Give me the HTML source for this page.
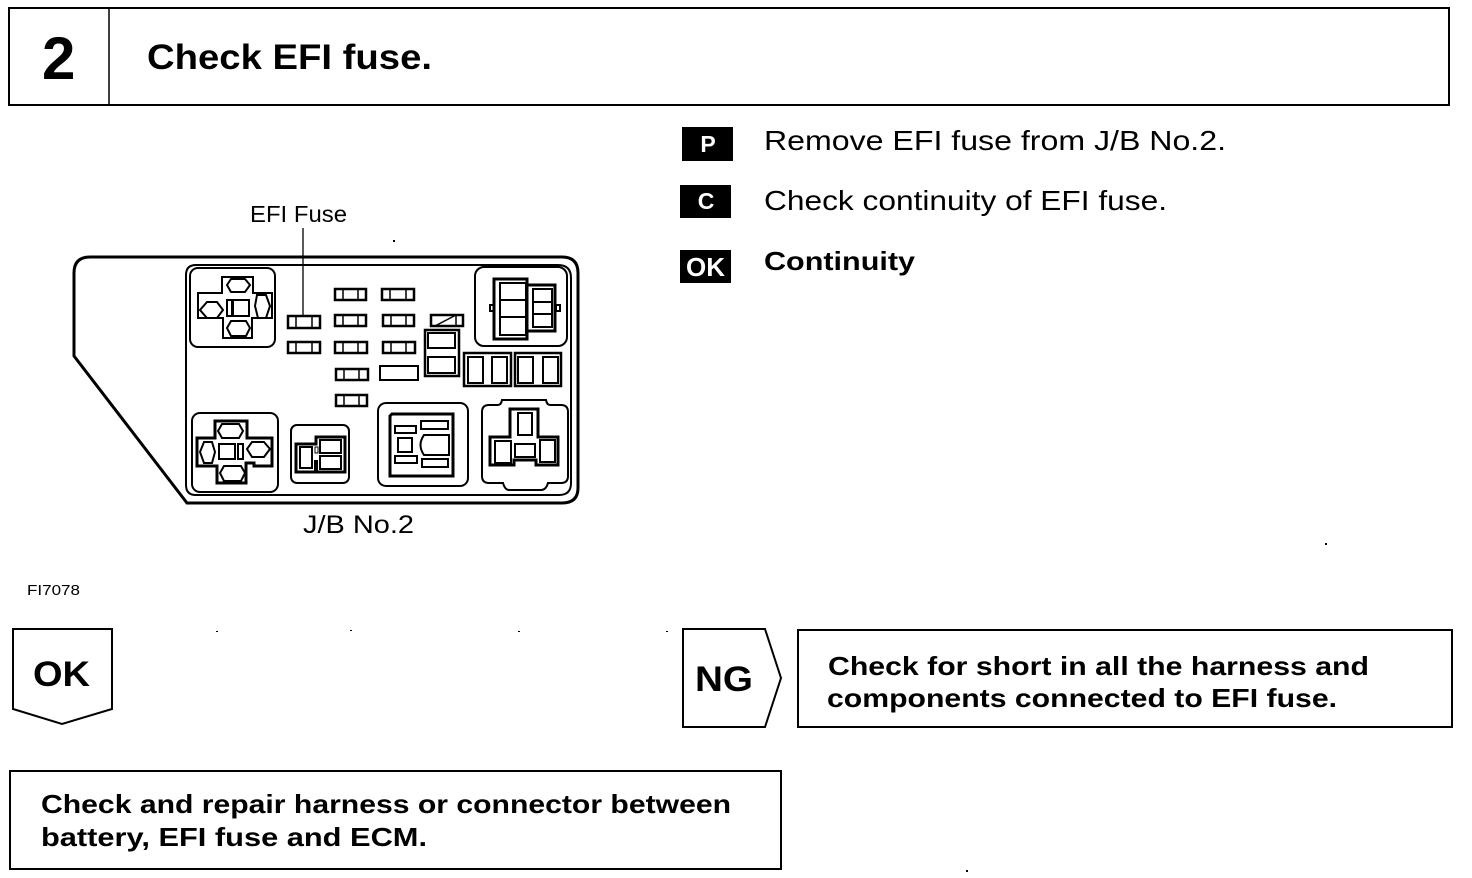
<!DOCTYPE html>
<html>
<head>
<meta charset="utf-8">
<style>
html,body{margin:0;padding:0;background:#fff}
svg{display:block}
text{font-family:"Liberation Sans",sans-serif;fill:#000}
.b{font-weight:bold}
.s{fill:none;stroke:#000;stroke-width:2}
.t{fill:none;stroke:#000;stroke-width:3}
.f{fill:none;stroke:#000;stroke-width:2.5}
</style>
</head>
<body>
<svg width="1472" height="878" viewBox="0 0 1472 878" xmlns="http://www.w3.org/2000/svg">
<rect width="1472" height="878" fill="#fff"/>

<!-- Header -->
<rect x="9" y="8" width="1440" height="97" fill="none" stroke="#000" stroke-width="2"/>
<line x1="109" y1="8" x2="109" y2="105" stroke="#000" stroke-width="1.5"/>
<text x="42" y="79" class="b" font-size="60">2</text>
<text x="147" y="69" class="b" font-size="35" textLength="285" lengthAdjust="spacingAndGlyphs">Check EFI fuse.</text>

<!-- Right instructions -->
<rect x="682" y="127" width="51" height="34" fill="#000"/>
<text x="708" y="152" class="b" font-size="23" text-anchor="middle" style="fill:#fff">P</text>
<rect x="680" y="185" width="51" height="33" fill="#000"/>
<text x="706" y="209" class="b" font-size="23" text-anchor="middle" style="fill:#fff">C</text>
<rect x="680" y="250" width="51" height="33" fill="#000"/>
<text x="705.5" y="276" class="b" font-size="26" text-anchor="middle" style="fill:#fff">OK</text>
<text x="764" y="150" font-size="28" textLength="462" lengthAdjust="spacingAndGlyphs">Remove EFI fuse from J/B No.2.</text>
<text x="764" y="210" font-size="28" textLength="403" lengthAdjust="spacingAndGlyphs">Check continuity of EFI fuse.</text>
<text x="764" y="270" class="b" font-size="26" textLength="151" lengthAdjust="spacingAndGlyphs">Continuity</text>

<!-- Diagram labels -->
<text x="250" y="222" font-size="23" textLength="97" lengthAdjust="spacingAndGlyphs">EFI Fuse</text>
<text x="303" y="533" font-size="25" textLength="111" lengthAdjust="spacingAndGlyphs">J/B No.2</text>
<text x="27" y="595" font-size="14.5" textLength="53" lengthAdjust="spacingAndGlyphs">FI7078</text>
<line x1="303" y1="228" x2="303" y2="315" stroke="#000" stroke-width="1.3"/>

<!-- J/B outline -->
<path class="t" d="M90 257 H562 Q578 257 578 273 V488 Q578 503 562 503 H187 L74 356 V273 Q74 257 90 257Z"/>
<path class="s" d="M196 265 H558 Q571 265 571 278 V483 Q571 495 559 495 H196 Q186 495 186 485 V275 Q186 265 196 265Z"/>

<!-- Top-left connector -->
<rect class="s" x="190" y="268" width="85" height="79" rx="8"/>
<path class="s" d="M222 277 H253 V293 H272 V318 H252 V338 H223 V318 H198 V293 H222Z"/>
<path class="s" d="M231 279 H245 L250 285 L245 292 H231 L227 285Z"/>
<path class="s" d="M207 302 H217 L223 310 L217 318 H207 L200 310Z"/>
<path class="s" d="M257 295 H266 L270 306 L266 318 H258 L255 306Z"/>
<path class="s" d="M231 321 H246 L250 328 L246 336 H231 L227 328Z"/>
<rect class="s" x="233" y="300" width="16" height="16"/>
<rect class="s" x="227" y="300" width="5" height="16"/>

<!-- Fuses -->
<g>
<rect class="f" x="288" y="316" width="32" height="12"/>
<rect class="f" x="288" y="342" width="32" height="11"/>
<rect class="f" x="335" y="289" width="31" height="11"/>
<rect class="f" x="335" y="315" width="31" height="11"/>
<rect class="f" x="335" y="342" width="32" height="11"/>
<rect class="f" x="336" y="369" width="32" height="11"/>
<rect class="f" x="336" y="395" width="31" height="11"/>
<rect class="f" x="382" y="289" width="32" height="11"/>
<rect class="f" x="383" y="315" width="31" height="11"/>
<rect class="f" x="383" y="342" width="32" height="11"/>
</g>
<path stroke="#000" stroke-width="1.5" d="M296 316V328M312 316V328M296 342V353M312 342V353M343 289V300M358 289V300M343 315V326M358 315V326M343 342V353M358 342V353M344 369V380M359 369V380M344 395V406M359 395V406M390 289V300M406 289V300M391 315V326M406 315V326M391 342V353M406 342V353"/>

<!-- Small slanted fuse -->
<rect class="f" x="431" y="315" width="32" height="11"/>
<path stroke="#000" stroke-width="1.5" d="M435 326L456 315M456 315V326"/>
<rect class="s" x="380" y="366" width="38" height="14"/>

<!-- Double relay -->
<rect class="f" x="425" y="330" width="34" height="46"/>
<rect class="s" x="428" y="333" width="27" height="15"/>
<rect class="s" x="428" y="357" width="27" height="16"/>

<!-- Four-cell blocks -->
<rect class="f" x="464" y="353" width="47" height="33"/>
<rect class="s" x="468" y="357" width="15" height="26"/>
<rect class="s" x="492" y="357" width="15" height="26"/>
<rect class="f" x="515" y="353" width="46" height="33"/>
<rect class="s" x="518" y="357" width="15" height="26"/>
<rect class="s" x="543" y="357" width="15" height="26"/>

<!-- Top-right connector -->
<rect class="s" x="475" y="267" width="92" height="79" rx="9"/>
<rect class="t" x="494" y="279" width="33" height="60"/>
<rect class="s" x="500" y="283" width="26" height="52"/>
<path class="s" d="M500 300H526M500 317H526"/>
<rect class="t" x="527" y="285" width="28" height="46"/>
<rect class="s" x="533" y="289" width="19" height="38"/>
<path class="s" d="M533 302H552M533 314H552"/>
<rect class="s" x="490" y="305" width="4" height="6"/>
<rect class="s" x="556" y="305" width="4" height="6"/>

<!-- Bottom-left connector -->
<rect class="s" x="192" y="413" width="86" height="79" rx="8"/>
<path class="t" d="M215 421 H247 V438 H272 V466 H254 V463 H246 V483 H217 V466 H197 V438 H215Z"/>
<path class="s" d="M222 424 H239 L243 431 L239 438 H222 L218 431Z"/>
<path class="s" d="M204 442 H212 L215 452 L212 463 H204 L200 452Z"/>
<path class="s" d="M252 442 H264 L270 449 L264 457 H252 L247 449Z"/>
<path class="s" d="M224 466 H241 L245 473 L241 481 H224 L220 473Z"/>
<rect class="s" x="219" y="444" width="16" height="15"/>
<rect class="s" x="238" y="444" width="5" height="15"/>

<!-- Small connector -->
<rect class="s" x="291" y="425" width="58" height="58" rx="6"/>
<path class="t" d="M296 444 H316 V437 H345 V472 H296Z"/>
<rect class="s" x="300" y="447" width="12" height="21"/>
<rect class="s" x="320" y="440" width="21" height="13"/>
<rect class="s" x="320" y="456" width="21" height="13"/>
<rect x="314" y="460" width="4" height="11" fill="#000"/>
<rect x="315" y="447" width="3" height="6" fill="none" stroke="#000" stroke-width="1"/>

<!-- Middle bottom connector -->
<rect class="s" x="378" y="403" width="90" height="83" rx="8"/>
<path class="t" d="M392 414 H453 V476 H390 V416Z"/>
<rect class="s" x="395" y="426" width="21" height="7"/>
<rect class="s" x="421" y="421" width="27" height="8"/>
<rect class="s" x="398" y="438" width="14" height="14"/>
<path class="s" d="M424 435 H449 V455 H424 Q417 445 424 435Z"/>
<rect class="s" x="395" y="456" width="22" height="7"/>
<rect class="s" x="422" y="459" width="26" height="8"/>

<!-- Right bottom connector -->
<path class="s" d="M489 405 H498 Q501 405 502 400 H546 Q547 405 550 405 H561 Q568 405 568 412 V476 Q568 483 561 483 H548 Q546 490 541 490 H509 Q505 490 503 483 H489 Q482 483 482 476 V412 Q482 405 489 405Z"/>
<path class="t" d="M510 409 H538 V437 H558 V465 H536 V460 H514 V465 H490 V437 H510Z"/>
<rect class="s" x="518" y="413" width="14" height="22"/>
<rect class="s" x="495" y="441" width="16" height="22"/>
<rect class="s" x="515" y="444" width="20" height="13"/>
<rect class="s" x="540" y="440" width="15" height="22"/>

<!-- OK tag -->
<path class="s" d="M13 629 H112 V709 L62 724 L13 709Z"/>
<text x="33" y="686" class="b" font-size="35" textLength="57" lengthAdjust="spacingAndGlyphs">OK</text>

<!-- NG tag -->
<path class="s" d="M683 629 H765 L781 678 L765 727 H683Z"/>
<text x="695" y="691" class="b" font-size="35" textLength="58" lengthAdjust="spacingAndGlyphs">NG</text>

<!-- NG box -->
<rect class="s" x="798" y="630" width="654" height="97"/>
<text x="828" y="675" class="b" font-size="26" textLength="541" lengthAdjust="spacingAndGlyphs">Check for short in all the harness and</text>
<text x="827" y="707" class="b" font-size="26" textLength="510" lengthAdjust="spacingAndGlyphs">components connected to EFI fuse.</text>

<!-- OK box -->
<rect class="s" x="10" y="771" width="771" height="98"/>
<text x="41" y="813" class="b" font-size="26" textLength="690" lengthAdjust="spacingAndGlyphs">Check and repair harness or connector between</text>
<text x="41" y="846" class="b" font-size="26" textLength="386" lengthAdjust="spacingAndGlyphs">battery, EFI fuse and ECM.</text>

<!-- Specks -->
<g fill="#000">
<rect x="393" y="240" width="2" height="2"/>
<rect x="1325" y="543" width="2" height="2"/>
<rect x="216" y="631" width="2" height="1"/>
<rect x="350" y="630" width="2" height="1"/>
<rect x="518" y="631" width="2" height="1"/>
<rect x="666" y="631" width="2" height="1"/>
<rect x="966" y="870" width="2" height="2"/>
</g>
</svg>
</body>
</html>
